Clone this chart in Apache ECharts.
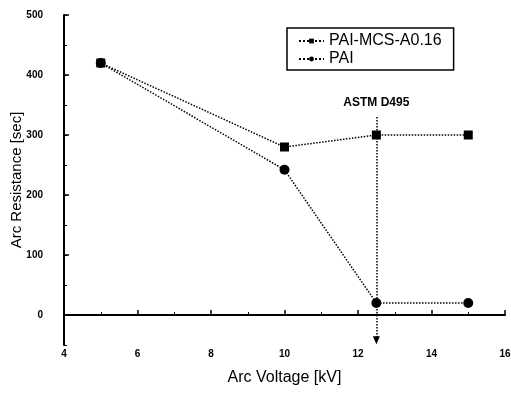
<!DOCTYPE html>
<html><head><meta charset="utf-8">
<script src="https://cdn.jsdelivr.net/npm/echarts@6/dist/echarts.min.js"></script>
<style>html,body{margin:0;padding:0;background:#fff}#c{width:511px;height:396px}</style>
</head><body><div id="c"></div>
<script>
const voltages = [5, 10, 12.5, 15];
const mcsValues = [420, 280, 300, 300];
const paiValues = [420, 242, 20, 20];
const seriesNames = ['PAI-MCS-A0.16', 'PAI'];
const yMajorTicks = [0, 100, 200, 300, 400, 500];
const astmVoltage = 12.5;
const astmTop = 330;
const astmBottom = -42;
const astmLabel = 'ASTM D495';

const chart = echarts.init(document.getElementById('c'));
const font = 'Liberation Sans, Arial, sans-serif';
chart.setOption({
  animation: false,
  backgroundColor: '#fff',
  grid: { left: 64, right: 6, top: 15, bottom: 51, outerBoundsMode: 'none', containLabel: false },
  legend: {
    left: 287, top: 28, orient: 'vertical',
    borderColor: '#000', borderWidth: 1.5, padding: [5, 12, 3, 11],
    itemGap: 2, itemWidth: 25, itemHeight: 6,
    textStyle: { fontFamily: font, fontSize: 16, color: '#000' },
    data: seriesNames
  },
  xAxis: {
    type: 'value', min: 4, max: 16, interval: 2,
    name: 'Arc Voltage [kV]', nameLocation: 'middle', nameGap: 25, nameMoveOverlap: false,
    nameTextStyle: { fontFamily: font, fontSize: 16, color: '#000' },
    axisLine: { lineStyle: { color: '#000', width: 2 } },
    axisTick: { inside: true, length: 5, lineStyle: { color: '#000', width: 1.5 } },
    minorTick: { show: true, splitNumber: 2, length: 3, lineStyle: { color: '#000' } },
    axisLabel: { fontFamily: font, fontSize: 10, fontWeight: 'bold', color: '#000', margin: 4, hideOverlap: false },
    splitLine: { show: false }
  },
  yAxis: [{
    type: 'value', min: -50, max: 500,
    name: 'Arc Resistance [sec]', nameLocation: 'middle', nameGap: 40, nameMoveOverlap: false,
    nameTextStyle: { fontFamily: font, fontSize: 15, color: '#000' },
    axisLine: { show: true, lineStyle: { color: '#000', width: 2 } },
    axisTick: { show: true, inside: true, length: 5, customValues: yMajorTicks, lineStyle: { color: '#000', width: 1.5 } },
    axisLabel: { fontFamily: font, fontSize: 10, fontWeight: 'bold', color: '#000', margin: 21, customValues: yMajorTicks },
    splitLine: { show: false }
  }, {
    type: 'value', min: -50, max: 500, interval: 50, position: 'left', offset: 0,
    axisLine: { show: false },
    axisTick: { show: true, inside: true, length: 3, lineStyle: { color: '#000' } },
    axisLabel: { show: false },
    splitLine: { show: false }
  }],
  series: [{
    name: seriesNames[0], type: 'line', yAxisIndex: 0,
    data: voltages.map((v, i) => [v, mcsValues[i]]),
    symbol: 'rect', symbolSize: 9,
    itemStyle: { color: '#000' },
    lineStyle: { color: '#000', width: 1.5, type: 'dotted' },
    markLine: {
      silent: true, symbol: ['none', 'triangle'], symbolSize: [7, 8],
      lineStyle: { color: '#000', width: 1.5, type: 'dotted' },
      label: { show: true, position: 'start', formatter: astmLabel, fontFamily: font, fontSize: 12, fontWeight: 'bold', color: '#000', distance: 8 },
      data: [[{ coord: [astmVoltage, astmTop] }, { coord: [astmVoltage, astmBottom] }]]
    }
  }, {
    name: seriesNames[1], type: 'line', yAxisIndex: 0,
    data: voltages.map((v, i) => [v, paiValues[i]]),
    symbol: 'circle', symbolSize: 10,
    itemStyle: { color: '#000' },
    lineStyle: { color: '#000', width: 1.5, type: 'dotted' }
  }]
});
</script></body></html>
